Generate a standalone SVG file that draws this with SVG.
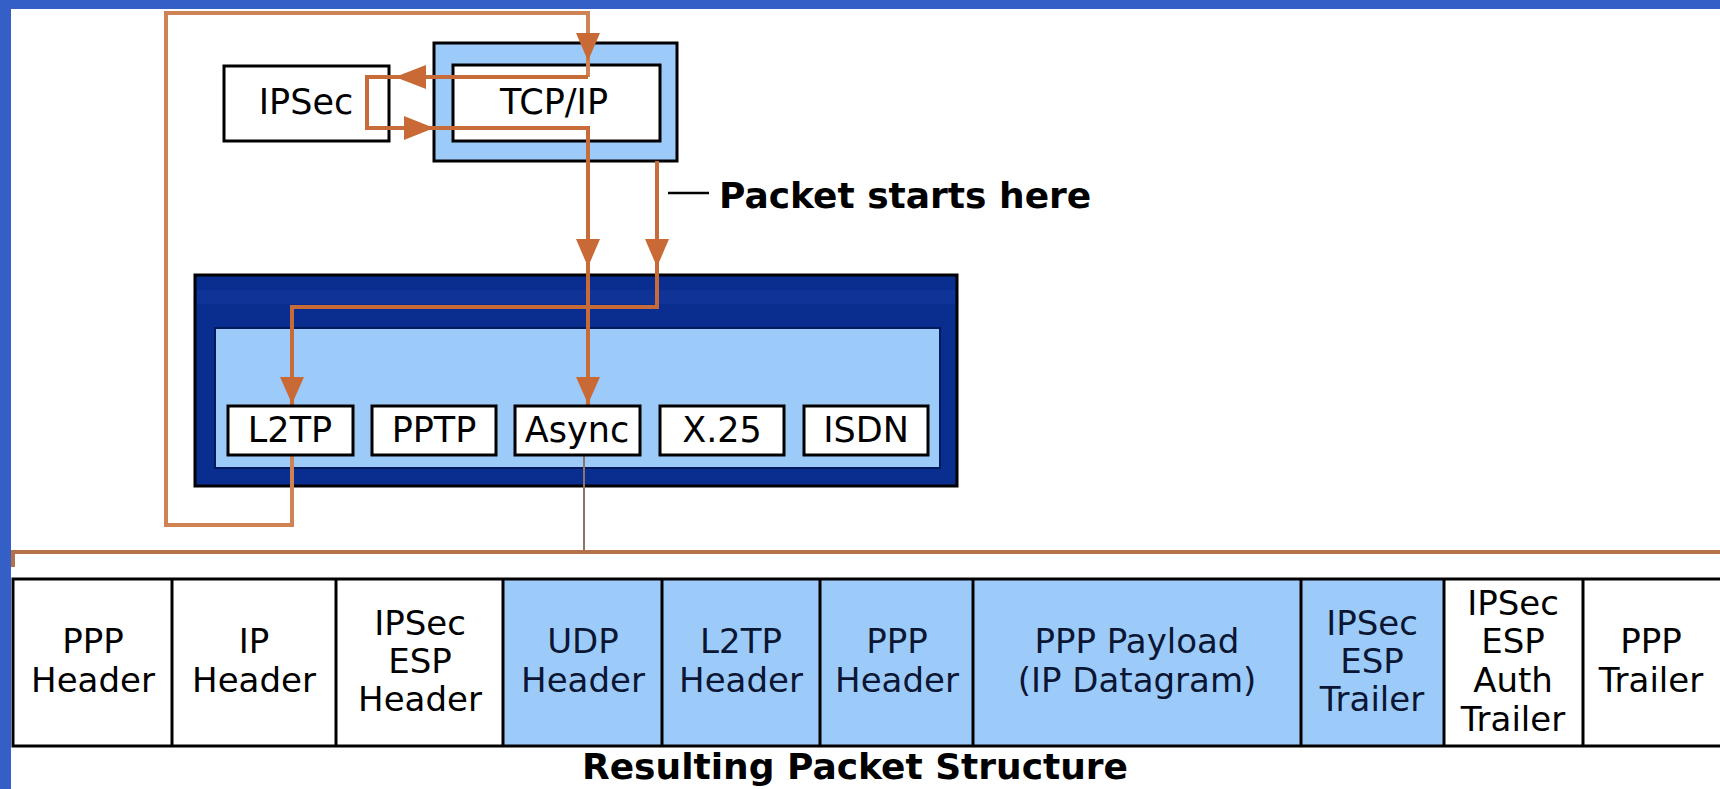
<svg xmlns="http://www.w3.org/2000/svg" width="1720" height="789" viewBox="0 0 1720 789">
  <defs>
    <style>
      .box{fill:#fff;stroke:#000;stroke-width:3}
      .lbl{font-family:"DejaVu Sans",Verdana,sans-serif;font-size:34px;fill:#000;text-anchor:middle}
      .lblb{font-family:"DejaVu Sans",Verdana,sans-serif;font-size:34px;fill:#0a1633;text-anchor:middle}
      .proto{font-family:"DejaVu Sans",Verdana,sans-serif;font-size:35px;fill:#000;text-anchor:middle}
      .bold{font-family:"DejaVu Sans",Verdana,sans-serif;font-weight:bold;font-size:36px;fill:#000}
      .flow{fill:none;stroke:#c76b38;stroke-width:4;stroke-linejoin:miter}
      .loop{fill:none;stroke:#cf8254;stroke-width:4;stroke-linejoin:miter}
      .head{fill:#c96a36}
      .white{fill:#fff}
      .blue{fill:#9dcbf9}
      .div{stroke:#000;stroke-width:3}
    </style>
  </defs>

  <!-- page background and frame bands -->
  <rect width="1720" height="789" fill="#fff"/>
  <rect x="0" y="0" width="1720" height="9" fill="#335fc7"/>
  <rect x="0" y="0" width="11" height="789" fill="#335fc7"/>

  <!-- protocol stack: IPSec and TCP/IP -->
  <g id="ipsec">
    <rect class="box" x="224" y="66" width="165" height="75"/>
    <text class="proto" x="306" y="114">IPSec</text>
  </g>
  <g id="tcpip">
    <rect x="434" y="43" width="243" height="118" fill="#9dcbf9" stroke="#000" stroke-width="3"/>
    <rect class="box" x="453" y="65" width="207" height="76"/>
    <text class="proto" x="554" y="114">TCP/IP</text>
  </g>

  <!-- WAN miniport container -->
  <g id="miniports">
    <rect x="195" y="275" width="762" height="211" fill="#0a2d90" stroke="#000" stroke-width="3"/>
    <rect x="197" y="290" width="758" height="14" fill="#1a3fa6" opacity="0.35"/>
    <rect x="215" y="328" width="725" height="140" fill="#9dcbf9" stroke="#001a5c" stroke-width="2"/>
  </g>

  <!-- packet flow -->
  <g id="connectors">
    <path class="loop" d="M292,455 V525 H166 V13 H588 V77"/>
    <path class="flow" d="M588,77 H367 V128 H588 V406"/>
    <path class="flow" d="M657,161 V307 H292 V406"/>
    <path d="M584,455 V552" fill="none" stroke="#8e7468" stroke-width="2"/>
    <path d="M11,552 H1720 M13,552 V567" fill="none" stroke="#b5714c" stroke-width="4"/>
    <polygon class="head" points="576,33 600,33 588,61"/>
    <polygon class="head" points="395,77 426,65 426,89"/>
    <polygon class="head" points="434,128 404,116 404,140"/>
    <polygon class="head" points="576,239 600,239 588,267"/>
    <polygon class="head" points="645,239 669,239 657,267"/>
    <polygon class="head" points="280,377 304,377 292,404"/>
    <polygon class="head" points="576,377 600,377 588,404"/>
  </g>

  <!-- miniport boxes -->
  <g id="l2tp">
    <rect class="box" x="228" y="406" width="125" height="49"/>
    <text class="proto" x="290" y="442">L2TP</text>
  </g>
  <g id="pptp">
    <rect class="box" x="372" y="406" width="124" height="49"/>
    <text class="proto" x="434" y="442">PPTP</text>
  </g>
  <g id="async">
    <rect class="box" x="515" y="406" width="125" height="49"/>
    <text class="proto" x="577" y="442">Async</text>
  </g>
  <g id="x25">
    <rect class="box" x="660" y="406" width="124" height="49"/>
    <text class="proto" x="722" y="442">X.25</text>
  </g>
  <g id="isdn">
    <rect class="box" x="804" y="406" width="124" height="49"/>
    <text class="proto" x="866" y="442">ISDN</text>
  </g>

  <!-- start label -->
  <g id="start-label">
    <line x1="668" y1="193" x2="709" y2="193" stroke="#000" stroke-width="2.5"/>
    <text class="bold" x="719" y="208">Packet starts here</text>
  </g>

  <!-- resulting packet structure -->
  <g id="packet">
    <rect class="white" x="13" y="579" width="490" height="167"/>
    <rect class="blue" x="503" y="579" width="941" height="167"/>
    <rect class="white" x="1444" y="579" width="280" height="167"/>
    <rect x="13" y="579" width="1712" height="167" fill="none" stroke="#000" stroke-width="3"/>
    <line class="div" x1="172" y1="579" x2="172" y2="746"/>
    <line class="div" x1="336" y1="579" x2="336" y2="746"/>
    <line class="div" x1="503" y1="579" x2="503" y2="746"/>
    <line class="div" x1="662" y1="579" x2="662" y2="746"/>
    <line class="div" x1="820" y1="579" x2="820" y2="746"/>
    <line class="div" x1="973" y1="579" x2="973" y2="746"/>
    <line class="div" x1="1301" y1="579" x2="1301" y2="746"/>
    <line class="div" x1="1444" y1="579" x2="1444" y2="746"/>
    <line class="div" x1="1583" y1="579" x2="1583" y2="746"/>

    <g id="ppp-header"><text class="lbl" x="93" y="653">PPP</text><text class="lbl" x="93" y="692">Header</text></g>
    <g id="ip-header"><text class="lbl" x="254" y="653">IP</text><text class="lbl" x="254" y="692">Header</text></g>
    <g id="esp-header"><text class="lbl" x="420" y="635">IPSec</text><text class="lbl" x="420" y="673">ESP</text><text class="lbl" x="420" y="711">Header</text></g>
    <g id="udp-header"><text class="lblb" x="583" y="653">UDP</text><text class="lblb" x="583" y="692">Header</text></g>
    <g id="l2tp-header"><text class="lblb" x="741" y="653">L2TP</text><text class="lblb" x="741" y="692">Header</text></g>
    <g id="ppp-header-inner"><text class="lblb" x="897" y="653">PPP</text><text class="lblb" x="897" y="692">Header</text></g>
    <g id="ppp-payload"><text class="lblb" x="1137" y="653">PPP Payload</text><text class="lblb" x="1137" y="692">(IP Datagram)</text></g>
    <g id="esp-trailer"><text class="lblb" x="1372" y="635">IPSec</text><text class="lblb" x="1372" y="673">ESP</text><text class="lblb" x="1372" y="711">Trailer</text></g>
    <g id="esp-auth-trailer"><text class="lbl" x="1513" y="615">IPSec</text><text class="lbl" x="1513" y="653">ESP</text><text class="lbl" x="1513" y="692">Auth</text><text class="lbl" x="1513" y="731">Trailer</text></g>
    <g id="ppp-trailer"><text class="lbl" x="1651" y="653">PPP</text><text class="lbl" x="1651" y="692">Trailer</text></g>
  </g>

  <text class="bold" x="855" y="779" text-anchor="middle" font-size="35.5">Resulting Packet Structure</text>
</svg>
